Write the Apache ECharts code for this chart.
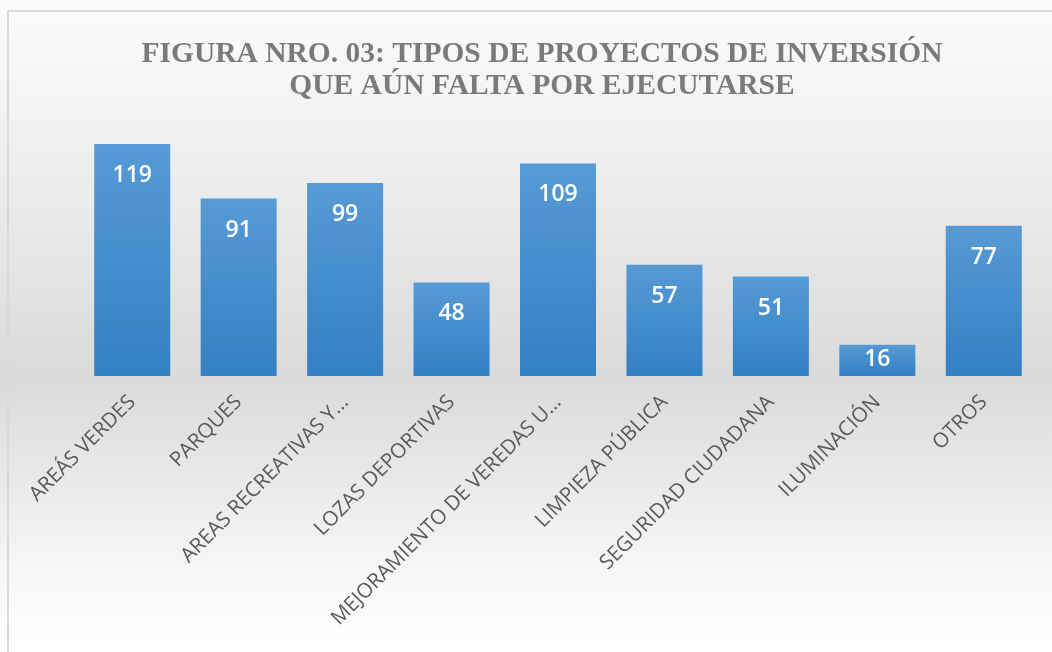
<!DOCTYPE html>
<html>
<head>
<meta charset="utf-8">
<script src="https://cdn.jsdelivr.net/npm/echarts@6/dist/echarts.min.js"></script>
<style>
  html, body { margin: 0; padding: 0; }
  #main { width: 1052px; height: 652px; }
</style>
</head>
<body>
<div id="main"></div>
<script>
let categories = ['AREÁS VERDES', 'PARQUES', 'AREAS RECREATIVAS Y...', 'LOZAS DEPORTIVAS', 'MEJORAMIENTO DE VEREDAS U...', 'LIMPIEZA PÚBLICA', 'SEGURIDAD CIUDADANA', 'ILUMINACIÓN', 'OTROS']
let values = [119, 91, 99, 48, 109, 57, 51, 16, 77]

// short bar: label sits nearer the top so it stays inside
let barData = values.map(v => v < 25 ? { value: v, label: { distance: 3 } } : v)

let chart = echarts.init(document.getElementById('main'))
let option = {
	backgroundColor: {
		type: 'linear', x: 0, y: 0, x2: 0, y2: 1,
		colorStops: [
			{ offset: 0, color: '#fbfbfb' },
			{ offset: 0.15, color: '#f3f4f4' },
			{ offset: 0.58, color: '#d9dadc' },
			{ offset: 0.88, color: '#f6f7f7' },
			{ offset: 1, color: '#ffffff' }
		]
	},
	animation: false,
	graphic: [{
		type: 'rect',
		shape: { x: 8, y: 11, width: 1100, height: 700 },
		style: { fill: 'none', stroke: '#d9d9d9', lineWidth: 2 },
		silent: true
	}],
	title: {
		text: 'FIGURA NRO. 03: TIPOS DE PROYECTOS DE INVERSIÓN\nQUE AÚN FALTA POR EJECUTARSE',
		left: 537,
		textAlign: 'center',
		top: 33,
		textStyle: {
			fontFamily: 'Liberation Serif',
			fontWeight: 'bold',
			fontSize: 29.5,
			lineHeight: 32,
			color: '#7a7a7a'
		}
	},
	grid: {
		left: 79,
		right: 15,
		top: 103,
		bottom: 276
	},
	xAxis: {
		type: 'category',
		data: categories,
		axisLine: { show: false },
		axisTick: { show: false },
		axisLabel: {
			interval: 0,
			rotate: 45,
			margin: 23,
			color: '#595959',
			fontFamily: 'Open Sans',
			fontSize: 20.5
		}
	},
	yAxis: {
		type: 'value',
		min: 0,
		max: 140,
		show: false,
		splitLine: { show: false }
	},
	series: [{
		type: 'bar',
		data: barData,
		barWidth: 76,
		itemStyle: {
			color: {
				type: 'linear', x: 0, y: 0, x2: 0, y2: 1,
				colorStops: [
					{ offset: 0, color: '#579ad5' },
					{ offset: 1, color: '#3380c4' }
				]
			}
		},
		label: {
			show: true,
			position: 'insideTop',
			distance: 20,
			color: '#ffffff',
			fontFamily: 'Open Sans',
			fontWeight: 600,
			fontSize: 23
		}
	}]
}
chart.setOption(option)
</script>
</body>
</html>
